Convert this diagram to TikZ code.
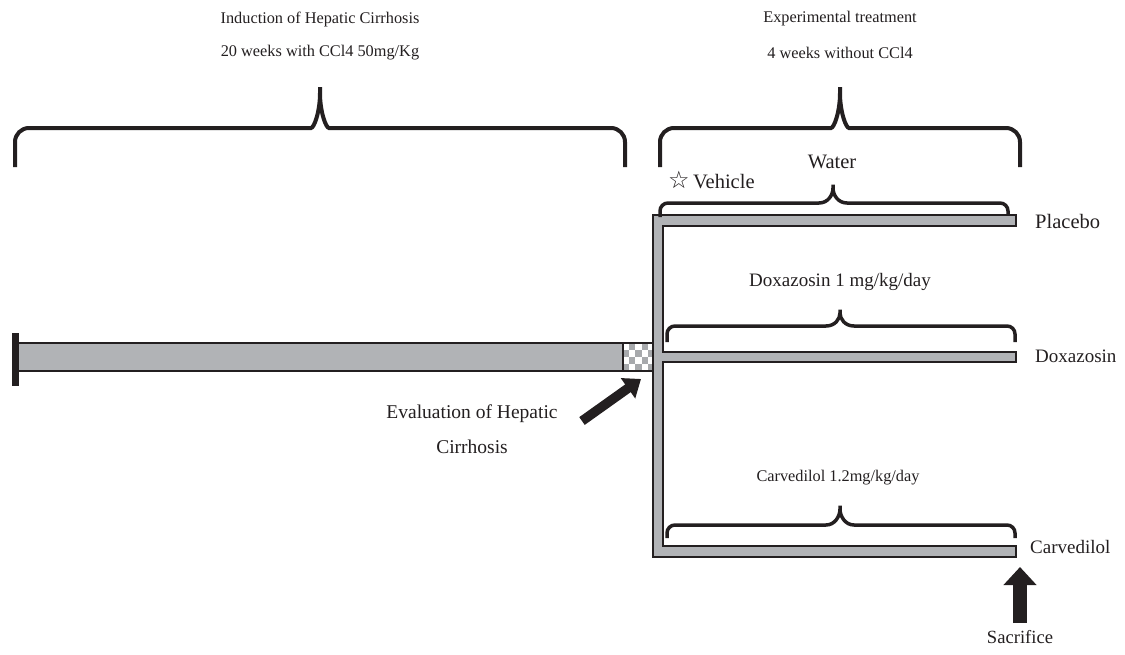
\documentclass[tikz,border=0pt]{standalone}
\usepackage{fontspec}
\setmainfont{Liberation Serif}
\newfontfamily\symfont{DejaVu Sans}
\usetikzlibrary{arrows.meta}
\definecolor{ink}{HTML}{231F20}
\definecolor{bargray}{HTML}{B1B3B6}
\definecolor{checkgray}{HTML}{A7A9AC}
\begin{document}
\begin{tikzpicture}[x=1pt,y=-1pt,
  lbl/.style={font=\fontsize{16.3}{19}\selectfont, inner sep=0pt, text=ink},
  biglbl/.style={font=\fontsize{20.5}{24}\selectfont, inner sep=0pt, text=ink},
  midlbl/.style={font=\fontsize{19}{22}\selectfont, inner sep=0pt, text=ink},
  bigbrace/.style={draw=ink, line width=4pt, rounded corners=14pt},
  smallbrace/.style={draw=ink, line width=3.5pt, rounded corners=8pt},
  bar/.style={fill=bargray, draw=ink, line width=2pt},
  sacarrow/.style={-{Triangle[length=18pt,width=32pt]}, line width=14pt, draw=ink},
  evalarrow/.style={-{Triangle[length=16pt,width=24pt]}, line width=9.5pt, draw=ink}]
\useasboundingbox (0,0) rectangle (1125,654);

% titles
\node[lbl] (t1a) at (320,19) {Induction of Hepatic Cirrhosis};
\node[lbl] (t1b) at (320,53) {20 weeks with CCl4 50mg/Kg};
\node[lbl] (t2a) at (840,19) {Experimental treatment};
\node[lbl] (t2b) at (840,53) {4 weeks without CCl4};

% big braces
\draw[bigbrace] (15,167) -- (15,128) -- (297,128)
  .. controls (314,128) and (320,112) .. (320,79)
  .. controls (320,112) and (326,128) .. (343,128) -- (625,128) -- (625,167);
\draw[bigbrace] (660,167) -- (660,128) -- (817,128)
  .. controls (834,128) and (840,112) .. (840,79)
  .. controls (840,112) and (846,128) .. (863,128) -- (1020,128) -- (1020,167);

% main induction bar
\draw[bar] (15,343) rectangle (623,371);
\fill[ink] (12,333) rectangle (19,386);

% checkered box
\foreach \i in {0,...,4}{
  \foreach \j in {0,...,3}{
    \pgfmathtruncatemacro\cpar{mod(\i+\j,2)}
    \ifnum\cpar=1
      \fill[checkgray] (623+\i*6.2,343+\j*7) rectangle ++(6.2,7);
    \fi
  }
}
\draw[ink, line width=2pt] (623,343) rectangle (654,371);

% E-shaped treatment bars
\draw[bar, line join=miter] (653,215) -- (1016,215) -- (1016,226) -- (663,226)
  -- (663,352) -- (1016,352) -- (1016,362) -- (663,362)
  -- (663,546) -- (1016,546) -- (1016,557) -- (653,557) -- cycle;

% small braces
\draw[smallbrace] (660,217) -- (660,203) -- (811,203)
  .. controls (828,203) and (833,195) .. (833,180)
  .. controls (833,195) and (838,203) .. (855,203) -- (1008,203) -- (1008,215);
\draw[smallbrace] (667,342) -- (667,326) -- (818,326)
  .. controls (835,326) and (840,319) .. (840,305)
  .. controls (840,319) and (845,326) .. (862,326) -- (1015,326) -- (1015,342);
\draw[smallbrace] (667,538) -- (667,525) -- (818,525)
  .. controls (835,525) and (840,516) .. (840,501)
  .. controls (840,516) and (845,525) .. (862,525) -- (1015,525) -- (1015,538);

% treatment labels
\node[biglbl, anchor=west] (veh) at (668,180) {{\symfont\fontsize{24}{24}\selectfont ☆}\,Vehicle};
\node[biglbl] (water) at (832,162) {Water};
\node[midlbl] (doxlbl) at (840,282) {Doxazosin 1 mg/kg/day};
\node[lbl] (carlbl) at (838,478) {Carvedilol 1.2mg/kg/day};
\node[biglbl, anchor=west] (plac) at (1035,221) {Placebo};
\node[midlbl, anchor=west] (dox) at (1035,356) {Doxazosin};
\node[midlbl, anchor=west] (car) at (1030,547) {Carvedilol};

% evaluation
\node[lbl, align=center, font=\fontsize{19.5}{35}\selectfont] (eval) at (472,429) {Evaluation of Hepatic\\Cirrhosis};
\coordinate (evaltail) at (582,421);
\coordinate (evaltip) at (641,379);
\draw[evalarrow] (evaltail) -- (evaltip);

% sacrifice
\node[lbl, font=\fontsize{18.6}{20}\selectfont] (sac) at (1020,637) {Sacrifice};
\coordinate (sactail) at (1020,623);
\coordinate (sactip) at (1020,567);
\draw[sacarrow] (sactail) -- (sactip);
\end{tikzpicture}
\end{document}
